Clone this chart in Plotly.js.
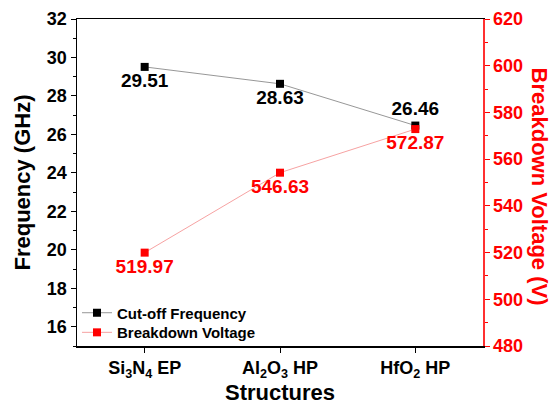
<!DOCTYPE html>
<html>
<head>
<meta charset="utf-8">
<script src="https://cdn.plot.ly/plotly-3.0.1.min.js"></script>
<style>html,body{margin:0;padding:0;background:#fff;}#chart{width:553px;height:405px;}</style>
</head>
<body>
<div id="chart"></div>
<script>
const structures = ["Si<sub>3</sub>N<sub>4</sub> EP", "Al<sub>2</sub>O<sub>3</sub> HP", "HfO<sub>2</sub> HP"];
const cutoffFrequency = [29.51, 28.63, 26.46];
const cutoffLabels = ["29.51", "28.63", "26.46"];
const breakdownVoltage = [519.97, 554.2, 572.87];
const breakdownLabels = ["519.97", "546.63", "572.87"];
const leftTicks = [16, 18, 20, 22, 24, 26, 28, 30, 32];
const rightTicks = [480, 500, 520, 540, 560, 580, 600, 620];

const FONT = "Liberation Sans, Arial, sans-serif";
const xIdx = structures.map((_, i) => i);

const traces = [
  {
    x: xIdx, y: cutoffFrequency, name: "Cut-off Frequency",
    type: "scatter", mode: "lines+markers+text", legend: "legend",
    line: {color: "#6a6a6a", width: 0.7},
    marker: {symbol: "square", size: 8, color: "#000000"},
    text: cutoffLabels,
    textposition: ["bottom center", "bottom center", "top center"],
    textfont: {family: FONT, size: 19, color: "#000000", weight: "bold"},
    cliponaxis: false
  },
  {
    x: xIdx, y: breakdownVoltage, name: "Breakdown Voltage", yaxis: "y2",
    type: "scatter", mode: "lines+markers+text", legend: "legend2",
    line: {color: "#f27a7a", width: 0.7},
    marker: {symbol: "square", size: 8, color: "#ff0000"},
    text: breakdownLabels,
    textposition: ["bottom center", "bottom center", "bottom center"],
    textfont: {family: FONT, size: 19, color: "#ff0000", weight: "bold"},
    cliponaxis: false
  }
];

const legendFont = {family: FONT, size: 15, color: "#000000", weight: "bold"};

const layout = {
  width: 553, height: 405,
  margin: {l: 77, r: 70, t: 19, b: 59},
  paper_bgcolor: "#ffffff", plot_bgcolor: "#ffffff",
  font: {family: FONT, weight: "bold"},
  showlegend: true,
  legend: {
    x: 0.0, y: 0.101, xanchor: "left", yanchor: "middle",
    bgcolor: "rgba(0,0,0,0)", font: legendFont
  },
  legend2: {
    x: 0.0, y: 0.041, xanchor: "left", yanchor: "middle",
    bgcolor: "rgba(0,0,0,0)", font: legendFont
  },
  xaxis: {
    range: [-0.5, 2.5],
    tickmode: "array", tickvals: xIdx, ticktext: structures,
    ticks: "outside", ticklen: 5, tickwidth: 1, tickcolor: "#000",
    showline: true, linecolor: "#000000", linewidth: 1.5, mirror: true,
    showgrid: false, zeroline: false,
    tickfont: {family: FONT, size: 18, color: "#000000", weight: "bold"},
    title: {text: "Structures", font: {family: FONT, size: 22, color: "#000000", weight: "bold"}, standoff: 4}
  },
  yaxis: {
    range: [15, 32],
    tickmode: "array", tickvals: leftTicks,
    ticks: "outside", ticklen: 5, tickwidth: 1, tickcolor: "#000",
    minor: {ticks: "outside", ticklen: 3, dtick: 1, tick0: 0, tickcolor: "#000", showgrid: false},
    showline: true, linecolor: "#000000", linewidth: 1.5,
    showgrid: false, zeroline: false,
    tickfont: {family: FONT, size: 18, color: "#000000", weight: "bold"},
    title: {text: "Frequency (GHz)", font: {family: FONT, size: 22, color: "#000000", weight: "bold"}, standoff: 10}
  },
  yaxis2: {
    overlaying: "y", side: "right",
    range: [480, 620],
    tickmode: "array", tickvals: rightTicks,
    ticks: "outside", ticklen: 5, tickwidth: 1, tickcolor: "#ff0000",
    minor: {ticks: "outside", ticklen: 3, dtick: 10, tick0: 0, tickcolor: "#ff0000", showgrid: false},
    showline: true, linecolor: "#ff3030", linewidth: 1.5,
    showgrid: false, zeroline: false,
    tickfont: {family: FONT, size: 18, color: "#ff0000", weight: "bold"}
  },
  annotations: [{
    text: "Breakdown Voltage (V)",
    xref: "paper", yref: "paper", x: 1.14, y: 0.488,
    xanchor: "center", yanchor: "middle", textangle: 90, showarrow: false,
    font: {family: FONT, size: 22, color: "#ff0000", weight: "bold"}
  }]
};

Plotly.newPlot("chart", traces, layout, {displayModeBar: false, staticPlot: true});
</script>
</body>
</html>
